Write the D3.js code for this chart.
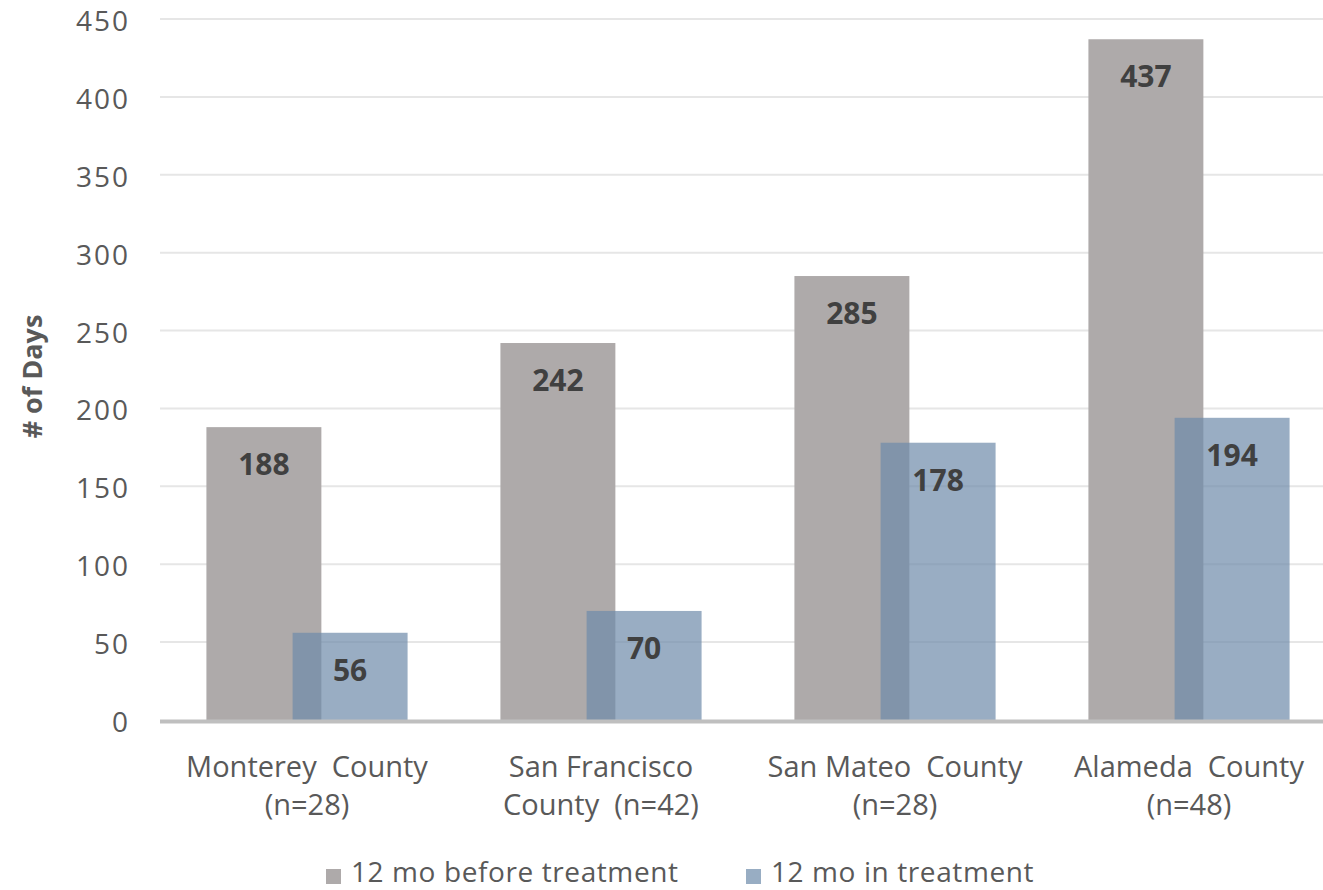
<!DOCTYPE html>
<html>
<head>
<meta charset="utf-8">
<script src="https://cdn.jsdelivr.net/npm/d3@7"></script>
<style>
  html, body { margin: 0; padding: 0; background: #fff; }
  svg { display: block; }
  text { white-space: pre; }
</style>
</head>
<body>
<svg id="chart" width="1323" height="890"></svg>
<script>
// Days per county, 12 months before vs. 12 months in treatment
const categories = [
  ["Monterey  County", "(n=28)"],
  ["San Francisco", "County  (n=42)"],
  ["San Mateo  County", "(n=28)"],
  ["Alameda  County", "(n=48)"]
];
const seriesNames = ["12 mo before treatment", "12 mo in treatment"];
const beforeValues = [188, 242, 285, 437];
const inValues = [56, 70, 178, 194];
const yTicks = [0, 50, 100, 150, 200, 250, 300, 350, 400, 450];
const yTitle = "# of Days";

const svg = d3.select("#chart");
const font = "'Open Sans', 'Noto Sans', sans-serif";
const textColor = "#595959";

const plot = { left: 160, right: 1336, top: 19, bottom: 720 };

const x = d3.scaleBand()
  .domain(d3.range(categories.length))
  .range([plot.left, plot.right])
  .paddingInner(0)
  .paddingOuter(0);

const y = d3.scaleLinear()
  .domain([0, 450])
  .range([plot.bottom, plot.top]);

// bar geometry inside each band: two bars that overlap by a quarter
const barW = x.bandwidth() * 0.391;
const offset = barW * 0.75;
const groupW = barW + offset;
const groupStart = (x.bandwidth() - groupW) / 2;

// gridlines
svg.append("g")
  .selectAll("line")
  .data(yTicks.filter(d => d > 0))
  .join("line")
  .attr("x1", plot.left)
  .attr("x2", plot.right)
  .attr("y1", d => y(d))
  .attr("y2", d => y(d))
  .attr("stroke", "#e6e6e6")
  .attr("stroke-width", 2);

// y axis tick labels
const yAxis = d3.axisLeft(y).tickValues(yTicks).tickSize(0).tickPadding(0);
const yg = svg.append("g")
  .attr("transform", `translate(${plot.left - 30},0)`)
  .call(yAxis);
yg.select(".domain").remove();
yg.selectAll("text")
  .attr("font-family", font)
  .attr("font-size", 28)
  .attr("letter-spacing", 2)
  .attr("fill", textColor)
  .attr("dy", "0.41em");

// y axis title
svg.append("text")
  .attr("transform", `translate(42,${(plot.top + plot.bottom) / 2 + 7}) rotate(-90)`)
  .attr("text-anchor", "middle")
  .attr("font-family", font)
  .attr("font-weight", "bold")
  .attr("font-size", 27)
  .attr("fill", textColor)
  .text(yTitle);

const colors = ["#aeaaaa", "#6d8aa9"];

// before-treatment bars
svg.append("g")
  .selectAll("rect")
  .data(beforeValues)
  .join("rect")
  .attr("x", (d, i) => x(i) + groupStart)
  .attr("y", d => y(d))
  .attr("width", barW)
  .attr("height", d => y(0) - y(d))
  .attr("fill", colors[0]);

// in-treatment bars (semi-transparent, overlapping)
svg.append("g")
  .selectAll("rect")
  .data(inValues)
  .join("rect")
  .attr("x", (d, i) => x(i) + groupStart + offset)
  .attr("y", d => y(d))
  .attr("width", barW)
  .attr("height", d => y(0) - y(d))
  .attr("fill", colors[1])
  .attr("fill-opacity", 0.7);

// value labels
const labelStyle = sel => sel
  .attr("text-anchor", "middle")
  .attr("font-family", font)
  .attr("font-weight", "bold")
  .attr("font-size", 30)
  .attr("fill", "#404040");

svg.append("g")
  .selectAll("text")
  .data(beforeValues)
  .join("text")
  .attr("x", (d, i) => x(i) + groupStart + barW / 2)
  .attr("y", d => y(d) + 48)
  .call(labelStyle)
  .text(d => d);

svg.append("g")
  .selectAll("text")
  .data(inValues)
  .join("text")
  .attr("x", (d, i) => x(i) + groupStart + offset + barW / 2)
  .attr("y", d => y(d) + 48)
  .call(labelStyle)
  .text(d => d);

// baseline
svg.append("line")
  .attr("x1", plot.left)
  .attr("x2", plot.right)
  .attr("y1", y(0) + 1.5)
  .attr("y2", y(0) + 1.5)
  .attr("stroke", "#bfbfbf")
  .attr("stroke-width", 4);

// category labels
const xl = svg.append("g")
  .selectAll("text")
  .data(categories)
  .join("text")
  .attr("x", (d, i) => x(i) + x.bandwidth() / 2)
  .attr("y", 777)
  .attr("text-anchor", "middle")
  .attr("font-family", font)
  .attr("font-size", 29)
  .attr("fill", textColor);
xl.selectAll("tspan")
  .data(d => d)
  .join("tspan")
  .attr("x", function () { return d3.select(this.parentNode).attr("x"); })
  .attr("dy", (d, i) => i === 0 ? 0 : 38)
  .text(d => d);

// legend
const legendX = [326, 746];
const lg = svg.append("g")
  .selectAll("g")
  .data(seriesNames)
  .join("g")
  .attr("transform", (d, i) => `translate(${legendX[i]},869)`);
lg.append("rect")
  .attr("width", 15)
  .attr("height", 15)
  .attr("fill", (d, i) => i === 0 ? colors[0] : "#98adc3");
lg.append("text")
  .attr("x", 25)
  .attr("y", 13)
  .attr("font-family", font)
  .attr("font-size", 28)
  .attr("letter-spacing", 0.6)
  .attr("fill", textColor)
  .text(d => d);
</script>
</body>
</html>
